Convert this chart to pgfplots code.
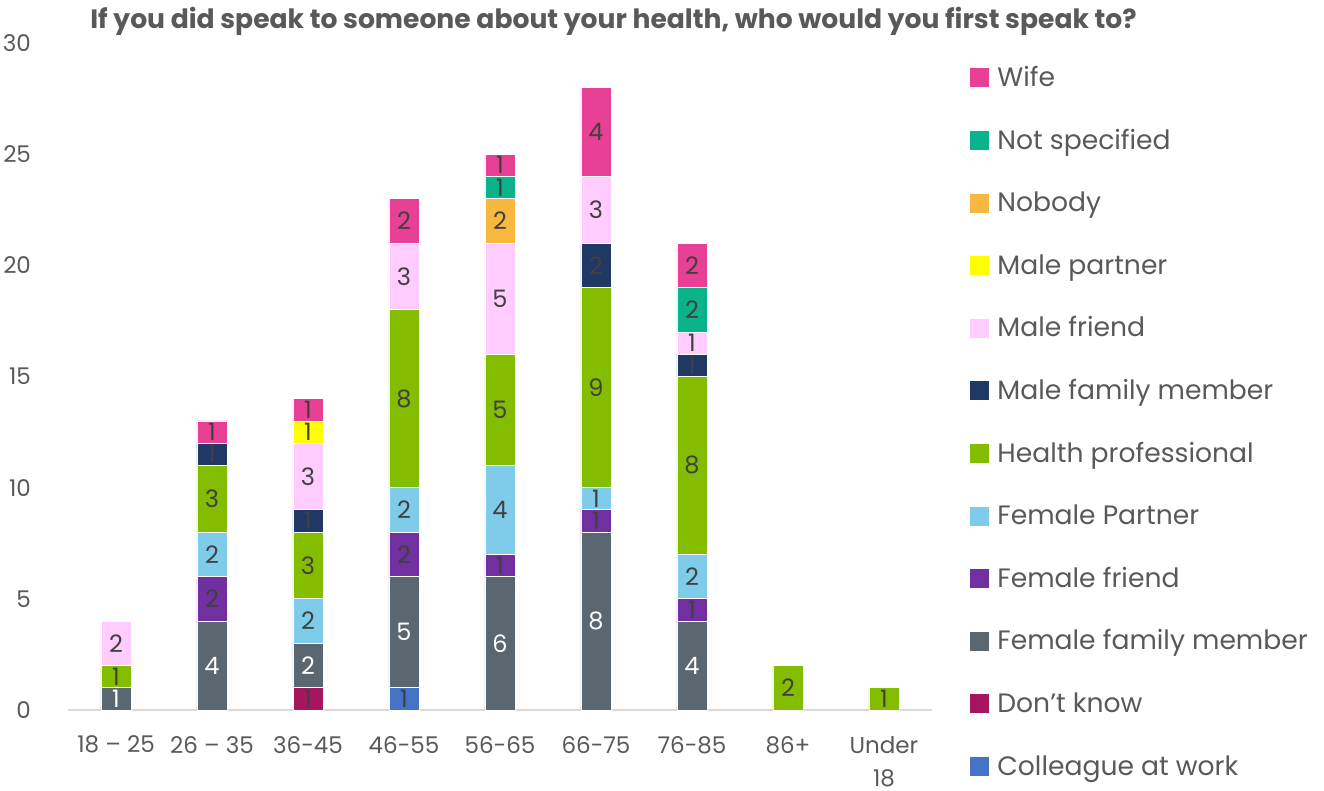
\documentclass[border=0pt]{standalone}
\usepackage{pgfplots}
\pgfplotsset{compat=1.18}
\usepackage{pgfplotstable}
\usepackage{fontspec}
\setmainfont{Poppins}
\definecolor{cWife}{HTML}{E84094}
\definecolor{cNS}{HTML}{0BB38B}
\definecolor{cNB}{HTML}{F8B73F}
\definecolor{cMP}{HTML}{FFFF00}
\definecolor{cMF}{HTML}{FFCCFF}
\definecolor{cMFM}{HTML}{1F3864}
\definecolor{cHP}{HTML}{84BD00}
\definecolor{cFP}{HTML}{7ECCEA}
\definecolor{cFF}{HTML}{7030A0}
\definecolor{cFFM}{HTML}{5B6770}
\definecolor{cDK}{HTML}{A6165F}
\definecolor{cCol}{HTML}{4472C4}
\definecolor{tickgray}{HTML}{595959}
\definecolor{labgray}{HTML}{404040}
\pgfplotstableread{
x col dk ffm ff fp hp mfm mf mp nb ns wife
0 0 0 1 0 0 1 0 2 0 0 0 0
1 0 0 4 2 2 3 1 0 0 0 0 1
2 0 1 2 0 2 3 1 3 1 0 0 1
3 1 0 5 2 2 8 0 3 0 0 0 2
4 0 0 6 1 4 5 0 5 0 2 1 1
5 0 0 8 1 1 9 2 3 0 0 0 4
6 0 0 4 1 2 8 1 1 0 0 2 2
7 0 0 0 0 0 2 0 0 0 0 0 0
8 0 0 0 0 0 1 0 0 0 0 0 0
}\data
\begin{document}
\begin{tikzpicture}
\path[use as bounding box] (-34pt,-40.5pt) rectangle (628pt,355pt);
\begin{axis}[
  at={(0,0)}, anchor=south west,
  scale only axis, width=432pt, height=333.5pt,
  ybar stacked, bar width=15pt,
  xmin=-0.5, xmax=8.5, ymin=0, ymax=30,
  xtick={0,...,8},
  xticklabels={18 – 25,26 – 35,36-45,46-55,56-65,66-75,76-85,86+,{Under\\18}},
  ytick={0,5,...,30},
  axis x line*=bottom, axis y line*=left,
  y axis line style={draw=none},
  x axis line style={draw=black!15, line width=0.8pt},
  major tick length=0pt,
  clip=false,
  /pgf/number format/assume math mode=true,
  tick label style={font=\fontsize{11.5}{16.8}\selectfont, text=tickgray},
  xticklabel style={align=center, yshift=-9.5pt},
  yticklabel style={xshift=-15pt},
  visualization depends on=rawy \as \rawy,
  nodes near coords={\ifdim\rawy pt>0pt \pgfmathprintnumber{\rawy}\fi},
  every node near coord/.style={anchor=center, inner sep=0pt, font=\fontsize{12}{14}\selectfont, text=labgray},
  legend style={at={(1.044,0.964)}, anchor=north west, draw=none, fill=none, inner sep=0pt,
    row sep=18.8pt, column sep=4pt, font=\fontsize{13.3}{15}\selectfont, text=tickgray,
    nodes={inner sep=0pt, text height=9.5pt, text depth=3pt}, cells={anchor=base west}},
  reverse legend,
  legend image code/.code={\fill[#1,draw=none] (0pt,-0.5pt) rectangle (9.5pt,9pt);},
  every axis plot/.append style={draw=white, line width=0.4pt},
]
\addplot[fill=cCol] table[x=x,y=col]{\data};
\addlegendentry{Colleague at work}
\addplot[fill=cDK] table[x=x,y=dk]{\data};
\addlegendentry{Don’t know}
\addplot[fill=cFFM, every node near coord/.append style={text=white}] table[x=x,y=ffm]{\data};
\addlegendentry{Female family member}
\addplot[fill=cFF] table[x=x,y=ff]{\data};
\addlegendentry{Female friend}
\addplot[fill=cFP] table[x=x,y=fp]{\data};
\addlegendentry{Female Partner}
\addplot[fill=cHP] table[x=x,y=hp]{\data};
\addlegendentry{Health professional}
\addplot[fill=cMFM] table[x=x,y=mfm]{\data};
\addlegendentry{Male family member}
\addplot[fill=cMF] table[x=x,y=mf]{\data};
\addlegendentry{Male friend}
\addplot[fill=cMP] table[x=x,y=mp]{\data};
\addlegendentry{Male partner}
\addplot[fill=cNB] table[x=x,y=nb]{\data};
\addlegendentry{Nobody}
\addplot[fill=cNS] table[x=x,y=ns]{\data};
\addlegendentry{Not specified}
\addplot[fill=cWife] table[x=x,y=wife]{\data};
\addlegendentry{Wife}
\end{axis}
\node[anchor=base west, font=\bfseries\fontsize{13.3}{15}\selectfont, text=tickgray, inner sep=0pt] at (11pt,340.5pt) {If you did speak to someone about your health, who would you first speak to?};
\end{tikzpicture}
\end{document}
